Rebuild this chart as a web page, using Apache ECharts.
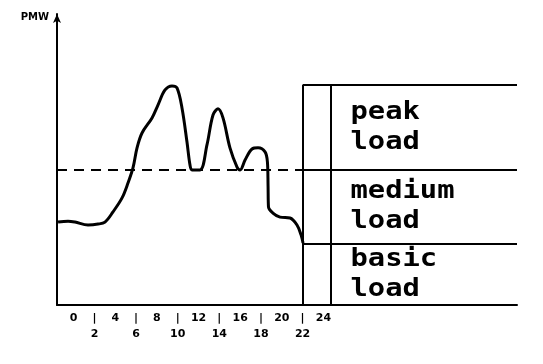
<!DOCTYPE html>
<html>
<head>
<meta charset="utf-8">
<script src="https://cdn.jsdelivr.net/npm/echarts@6/dist/echarts.min.js"></script>
<style>html,body{margin:0;padding:0;background:#fff;}#c{width:543px;height:364px;}</style>
</head>
<body>
<div id="c"></div>
<script>
// Daily load curve (hour of day, load in relative units)
var hours = [-1.5,-0.54,0.13,1.38,2.34,3.01,3.78,4.65,5.22,5.70,6.09,6.57,7.53,8.10,8.78,9.45,9.93,10.41,10.89,11.18,11.37,12.14,12.81,13.39,13.87,14.35,15.02,15.70,15.99,16.47,17.14,17.72,18.39,18.62,18.68,18.72,19.15,19.83,20.79,21.46,21.85,22.04];
var load  = [28.5,28.8,28.5,27.5,27.8,28.5,32.0,36.8,41.9,47.1,54.0,59.1,64.3,68.7,73.9,75.3,74.6,67.7,56.0,48.1,46.4,46.4,55.0,65.3,67.4,64.3,54.0,47.4,46.4,49.8,53.6,54.0,52.6,49.1,41.0,33.7,31.6,30.2,29.9,27.5,24.1,21.3];
var tickHours = [0,2,4,6,8,10,12,14,16,18,20,22,24];
var zoneBounds = [0, 21, 46.4, 75.6];
var zoneNames = ['basic\nload', 'medium\nload', 'peak\nload'];
var boxStartHour = 22;
var boxInnerHour = 24.7;
var xMin = -1.6, xMax = 42.6;

var chart = echarts.init(document.getElementById('c'), null, {renderer: 'canvas'});

var solid = {color: '#000', width: 2, type: 'solid'};
var boxLines = [
  [{coord: [boxStartHour, 0]}, {coord: [boxStartHour, zoneBounds[3]]}],
  [{coord: [boxInnerHour, 0]}, {coord: [boxInnerHour, zoneBounds[3]]}]
];
for (var i = 1; i < zoneBounds.length; i++) {
  boxLines.push([{coord: [boxStartHour, zoneBounds[i]]}, {coord: [xMax, zoneBounds[i]]}]);
}
boxLines.push([{coord: [xMin, zoneBounds[2]], lineStyle: {type: [10, 7], width: 2, color: '#000'}},
               {coord: [boxStartHour, zoneBounds[2]]}]);

var labelData = zoneNames.map(function (n, i) {
  return [26.6, (zoneBounds[i] + zoneBounds[i + 1]) / 2, n];
});

var option = {
  animation: false,
  backgroundColor: '#fff',
  grid: {left: 57, right: 26, top: 14, bottom: 59},
  xAxis: {
    type: 'value', min: xMin, max: xMax,
    axisLine: {show: true, onZero: false, lineStyle: {color: '#000', width: 2}},
    axisTick: {show: false},
    splitLine: {show: false},
    axisLabel: {
      customValues: tickHours,
      color: '#000', fontSize: 11, fontWeight: 'bold', fontFamily: 'DejaVu Sans',
      lineHeight: 16, margin: 5,
      formatter: function (v) { return (v % 4 === 0) ? (v + '\n ') : ('|\n' + v); }
    }
  },
  yAxis: {
    type: 'value', min: 0, max: 100,
    name: 'PMW', nameLocation: 'end', nameGap: -3,
    nameTextStyle: {color: '#000', fontSize: 10, fontWeight: 'bold', fontFamily: 'DejaVu Sans',
      align: 'right', verticalAlign: 'middle', padding: [0, 8, 0, 0]},
    axisLine: {show: true, onZero: false, symbol: ['none', 'arrow'], symbolSize: [6, 9], lineStyle: {color: '#000', width: 2}},
    axisTick: {show: false},
    axisLabel: {show: false},
    splitLine: {show: false}
  },
  series: [
    {
      type: 'line',
      data: hours.map(function (h, i) { return [h, load[i]]; }),
      smooth: 0.35,
      showSymbol: false,
      lineStyle: {color: '#000', width: 3},
      markLine: {
        silent: true, symbol: ['none', 'none'],
        label: {show: false},
        lineStyle: solid,
        data: boxLines
      },
      z: 3
    },
    {
      type: 'custom',
      coordinateSystem: 'cartesian2d',
      encode: {x: 0, y: 1},
      data: labelData,
      renderItem: function (params, api) {
        var p = api.coord([api.value(0), api.value(1)]);
        return {
          type: 'text',
          x: p[0], y: p[1],
          scaleX: 1.2, scaleY: 1,
          style: {
            text: zoneNames[params.dataIndex],
            fill: '#000',
            font: 'bold 24px "DejaVu Sans Mono"',
            lineHeight: 30,
            textAlign: 'left',
            textVerticalAlign: 'middle'
          }
        };
      }
    }
  ]
};
chart.setOption(option);
</script>
</body>
</html>
